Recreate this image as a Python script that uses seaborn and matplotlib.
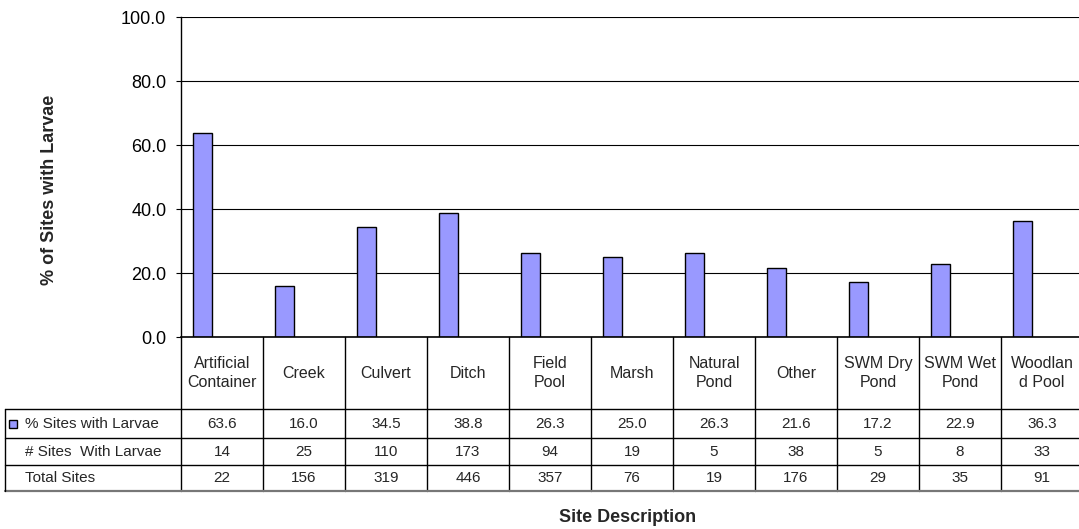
import matplotlib
matplotlib.use("Agg")
import matplotlib.pyplot as plt
import seaborn as sns

categories = ["Artificial\nContainer", "Creek", "Culvert", "Ditch", "Field\nPool",
              "Marsh", "Natural\nPond", "Other", "SWM Dry\nPond", "SWM Wet\nPond",
              "Woodlan\nd Pool"]
pct_with_larvae = [63.6, 16.0, 34.5, 38.8, 26.3, 25.0, 26.3, 21.6, 17.2, 22.9, 36.3]
sites_with_larvae = [14, 25, 110, 173, 94, 19, 5, 38, 5, 8, 33]
total_sites = [22, 156, 319, 446, 357, 76, 19, 176, 29, 35, 91]
row_labels = ["% Sites with Larvae", "# Sites  With Larvae", "Total Sites"]
y_ticks = [0, 20, 40, 60, 80, 100]

BAR_COLOR = "#9999FF"
W, H = 1079, 529

sns.set_style("white")
plt.rcParams["font.family"] = ["Liberation Sans", "DejaVu Sans"]

fig = plt.figure(figsize=(W / 100, H / 100), dpi=100)

# plot area in pixel terms
px_left, px_right, px_top, px_bottom = 181, 1083, 17, 337
ax = fig.add_axes([px_left / W, 1 - px_bottom / H,
                   (px_right - px_left) / W, (px_bottom - px_top) / H])

sns.barplot(x=list(range(len(categories))), y=pct_with_larvae, color=BAR_COLOR,
            edgecolor="black", linewidth=1.0, width=0.23, ax=ax, saturation=1)
# first of three series slots within each category cluster
for p in ax.patches:
    p.set_x(p.get_x() - 0.238)

ax.set_xlim(-0.5, len(categories) - 0.5)
ax.set_ylim(0, 100)
ax.set_yticks(y_ticks)
ax.set_yticklabels([f"{v:.1f}" for v in y_ticks], fontsize=13)
ax.set_xticks([])
ax.tick_params(axis="y", length=3.6, width=0.8, pad=7, direction="out", left=True, colors="black")
ax.yaxis.grid(True, color="black", linewidth=0.8)
ax.set_axisbelow(True)
for s in ["top", "right"]:
    ax.spines[s].set_visible(False)
ax.spines["left"].set_color("black")
ax.spines["bottom"].set_color("black")
ax.spines["left"].set_linewidth(1.0)
ax.spines["bottom"].set_linewidth(1.2)
ax.set_xlabel("")
ax.set_ylabel("")

# data table below the plot
tab_bottom = 491
tab = fig.add_axes([px_left / W, 1 - tab_bottom / H,
                    (px_right - px_left) / W, (tab_bottom - px_bottom) / H])
tab.set_xlim(-0.5, len(categories) - 0.5)
tab.set_ylim(tab_bottom - px_bottom, 0)
tab.axis("off")

unit = (px_right - px_left) / len(categories)
x_far_left = -0.5 - (px_left - 5) / unit
row_edges = [72, 101, 128, 154]
n = len(categories)

line_kw = dict(color="black", linewidth=1.0, clip_on=False)
for i in range(n + 1):
    tab.plot([i - 0.5, i - 0.5], [0, row_edges[-1]], **line_kw)
for y in row_edges[:-1]:
    tab.plot([x_far_left, n - 0.5], [y, y], **line_kw)
tab.plot([x_far_left, n - 0.5], [row_edges[-1], row_edges[-1]],
         color="#777777", linewidth=1.6, clip_on=False)
tab.plot([x_far_left, x_far_left], [row_edges[0], row_edges[-1]], **line_kw)

for i, cat in enumerate(categories):
    tab.text(i, row_edges[0] / 2, cat, ha="center", va="center", fontsize=11.5,
             linespacing=1.35, clip_on=False)

rows = [[f"{v:.1f}" for v in pct_with_larvae],
        [str(v) for v in sites_with_larvae],
        [str(v) for v in total_sites]]
for r, vals in enumerate(rows):
    yc = (row_edges[r] + row_edges[r + 1]) / 2
    for i, v in enumerate(vals):
        tab.text(i, yc, v, ha="center", va="center", fontsize=11, clip_on=False)
    tab.text(x_far_left + 20 / unit, yc, row_labels[r], ha="left", va="center",
             fontsize=11, clip_on=False)

# legend key in the first table row
key_x = x_far_left + 4 / unit
key_y = (row_edges[0] + row_edges[1]) / 2
tab.add_patch(plt.Rectangle((key_x, key_y - 4), 8 / unit, 8, facecolor=BAR_COLOR,
                            edgecolor="black", linewidth=1.0, clip_on=False))

fig.text(50 / W, 1 - 190 / H, "% of Sites with Larvae", rotation=90, ha="center",
         va="center", fontsize=13, fontweight="bold")
fig.text(628 / W, 1 - 517 / H, "Site Description", ha="center", va="center",
         fontsize=13, fontweight="bold")

fig.savefig("out.png", dpi=100, facecolor="white")
